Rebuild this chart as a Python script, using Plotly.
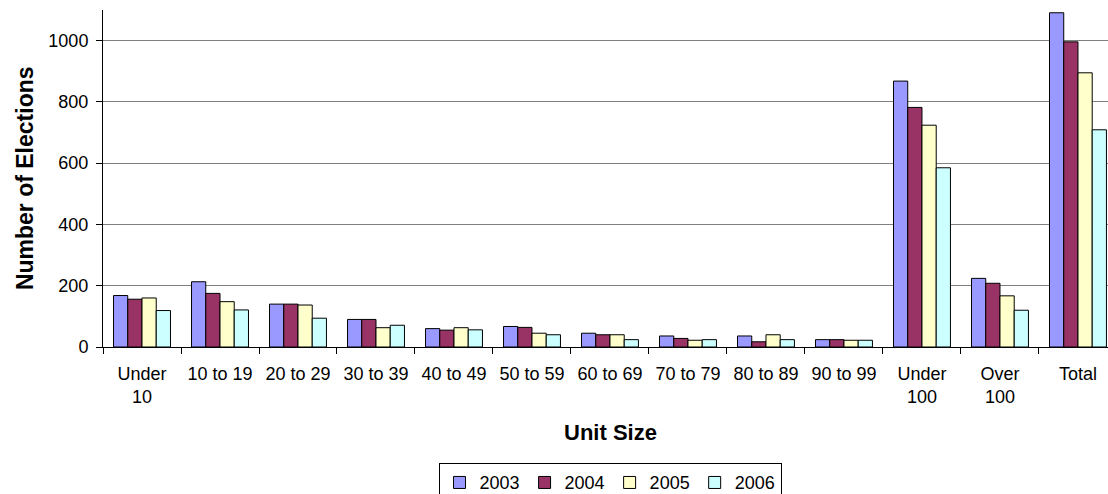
import plotly.graph_objects as go

# Unit-size buckets along the x axis
categories = ["Under<br>10", "10 to 19", "20 to 29", "30 to 39", "40 to 49",
              "50 to 59", "60 to 69", "70 to 79", "80 to 89", "90 to 99",
              "Under<br>100", "Over<br>100", "Total"]

# Number of elections per year
elections_2003 = [168, 213, 140, 90, 60, 67, 45, 36, 36, 24, 868, 224, 1091]
elections_2004 = [156, 175, 140, 90, 55, 64, 40, 28, 17, 24, 782, 208, 996]
elections_2005 = [160, 148, 137, 63, 63, 45, 40, 22, 40, 22, 724, 167, 895]
elections_2006 = [119, 121, 94, 71, 56, 40, 24, 24, 24, 22, 585, 120, 709]

years = ["2003", "2004", "2005", "2006"]
series = [elections_2003, elections_2004, elections_2005, elections_2006]
colors = ["#9999FF", "#993366", "#FFFFCC", "#CCFFFF"]

FONT = "Liberation Sans, Arial, sans-serif"

fig = go.Figure()
for name, vals, col in zip(years, series, colors):
    fig.add_trace(go.Bar(
        name=name, x=categories, y=vals,
        marker=dict(color=col, line=dict(color="#000000", width=1)),
    ))

fig.update_layout(
    width=1108, height=494,
    margin=dict(l=103, r=0, t=10, b=147, autoexpand=False),
    paper_bgcolor="white", plot_bgcolor="white",
    barmode="group", bargap=0.27, bargroupgap=0,
    font=dict(family=FONT, size=18, color="#000000"),
    showlegend=True,
    legend=dict(
        orientation="h", x=0.5045, xanchor="center", y=-0.345, yanchor="top",
        bordercolor="#000000", borderwidth=1, bgcolor="white",
        font=dict(family=FONT, size=18), itemwidth=30,
        tracegroupgap=0,
    ),
    xaxis=dict(
        type="category", range=[-0.5, 12.385],
        showline=True, linecolor="#000000", linewidth=1,
        ticks="outside", tickson="boundaries", ticklen=6, tickcolor="#000000",
        showgrid=False, tickangle=0, ticklabelstandoff=10,
        tickfont=dict(family=FONT, size=18),
    ),
    yaxis=dict(
        range=[0, 1100], tickvals=[0, 200, 400, 600, 800, 1000],
        showline=True, linecolor="#000000", linewidth=1,
        ticks="outside", ticklen=6, tickcolor="#000000",
        showgrid=True, gridcolor="#808080", gridwidth=1,
        zeroline=False, ticklabelstandoff=4,
        tickfont=dict(family=FONT, size=18),
    ),
    annotations=[
        dict(text="<b>Number of Elections</b>", xref="paper", yref="paper",
             x=-0.078, y=0.5, xanchor="center", yanchor="middle",
             textangle=-90, showarrow=False,
             font=dict(family=FONT, size=23)),
        dict(text="<b>Unit Size</b>", xref="paper", yref="paper",
             x=0.5045, y=-0.255, xanchor="center", yanchor="middle",
             showarrow=False, font=dict(family=FONT, size=22)),
    ],
)

fig.write_html("out.html")
